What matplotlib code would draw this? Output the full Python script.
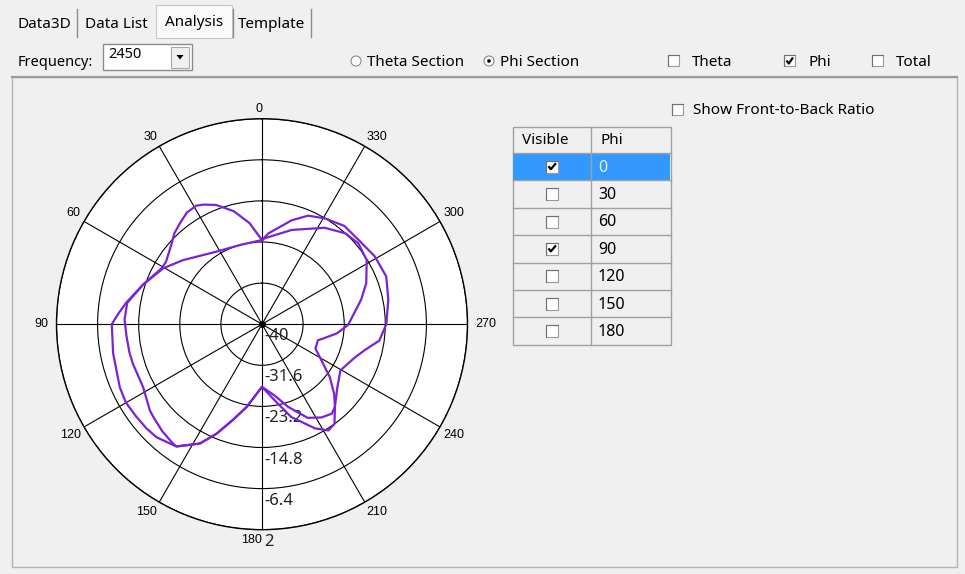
import numpy as np
import matplotlib.pyplot as plt
from matplotlib.patches import Rectangle, Circle, Polygon

plt.rcParams['font.family'] = ['Noto Sans', 'DejaVu Sans']

# window texts / state
tabs = ['Data3D', 'Data List', 'Analysis', 'Template']
active_tab = 2
frequency = '2450'
sections = ['Theta Section', 'Phi Section']
active_section = 1
components = ['Theta', 'Phi', 'Total']
components_checked = [False, True, False]
table_phi = [0, 30, 60, 90, 120, 150, 180]
table_visible = [True, False, False, True, False, False, False]
selected_row = 0

# polar scale
r_ticks = [-40, -31.6, -23.2, -14.8, -6.4, 2]
theta_ticks = list(range(0, 360, 30))

theta_phi0 = [0, 7, 14, 21, 26, 29, 34, 39, 44, 48, 57, 61, 71.5, 81, 86, 90, 101,
              107.5, 114, 120, 126, 132, 137, 145, 152.5, 157.5, 163, 169.5, 180,
              189.5, 197.5, 207, 212, 216, 221.5, 230, 239.5, 250, 256, 262, 270,
              281, 291, 301, 311, 320, 329, 337, 344, 356, 360]
gain_phi0 = [-22.8, -19.2, -16.2, -13.9, -12.8, -12.3, -12.5, -13.4, -14.2, -15.2,
             -16.6, -16.5, -14.4, -11.9, -10.5, -9.3, -9.0, -8.8, -8.2, -7.9, -8.1,
             -8.2, -8.4, -9.5, -12.5, -15.8, -19.5, -22.8, -27.2, -24.2, -20.1,
             -16.1, -14.4, -14.8, -17.5, -19.9, -21.4, -19.9, -18.3, -15.8, -14.6,
             -13.7, -12.8, -13.1, -13.8, -13.8, -14.8, -15.9, -17.9, -21.4, -22.8]

theta_phi90 = [0, 15.5, 32, 51, 60.5, 71.5, 81, 88, 95, 102, 107, 118, 127.5, 130.5,
               137, 143, 145, 152.5, 157.5, 163, 169.5, 180, 190, 197.5, 206, 212.5,
               218, 221.5, 226, 232, 239, 245.5, 254, 257, 263, 269.5, 284, 291.5,
               301.5, 310, 317.5, 327, 342.5, 358, 360]
gain_phi90 = [-22.8, -23.2, -22.5, -19.2, -16.8, -14.4, -12.1, -11.9, -12.2, -12.3,
              -12.4, -12.5, -11.1, -10.8, -10.1, -9.6, -9.5, -12.5, -15.8, -19.5,
              -22.8, -27.2, -25.2, -22.3, -18.7, -17.4, -16.8, -17.5, -19.5, -22.4,
              -25.9, -28.0, -28.1, -27.1, -24.6, -22.4, -19.1, -17.1, -14.9, -14.3,
              -14.8, -16.5, -19.8, -22.4, -22.8]

curve_color = '#7b22d4'
fs = 10.5

fig = plt.figure(figsize=(9.65, 5.74), dpi=100, facecolor='#f0f0f0')

# ---- window widgets, pixel coords (y down) ----
ui = fig.add_axes([0, 0, 1, 1])
ui.set_xlim(0, 965)
ui.set_ylim(574, 0)
ui.axis('off')


def checkbox(x, y, checked, s=11):
    ui.add_patch(Rectangle((x, y), s, s, facecolor='white', edgecolor='#9a9a9a', lw=0.8))
    ui.plot([x, x, x + s], [y + s, y, y], color='#707070', lw=0.8)
    if checked:
        ui.plot([x + 2.5, x + 4.8, x + s - 2], [y + 5.5, y + 8.5, y + 2.5],
                color='black', lw=1.6, solid_capstyle='butt')


def radio(x, y, on):
    ui.add_patch(Circle((x, y), 5, facecolor='white', edgecolor='#8a8a8a', lw=0.8))
    if on:
        ui.add_patch(Circle((x, y), 1.8, facecolor='black', edgecolor='none'))


# tabs
tab_x = [(12, 77), (77, 156), (156, 232), (232, 311)]
for i, (name, (x0, x1)) in enumerate(zip(tabs, tab_x)):
    if i == active_tab:
        ui.add_patch(Rectangle((x0, 5), x1 - x0, 33, facecolor='#fafafa',
                               edgecolor='#c8c8c8', lw=0.8))
        ui.text((x0 + x1) / 2, 22, name, ha='center', va='center', fontsize=fs + 0.5)
    else:
        ui.text((x0 + x1) / 2, 24, name, ha='center', va='center', fontsize=fs + 0.5)
for xs in (77, 233, 311):
    ui.plot([xs, xs], [9, 37], color='#8c8c8c', lw=1)

# frequency row
ui.text(18, 63, 'Frequency:', ha='left', va='center', fontsize=fs)
ui.add_patch(Rectangle((103, 44), 89, 26, facecolor='white', edgecolor='#8a8a8a', lw=1))
ui.add_patch(Rectangle((171, 47), 18, 21, facecolor='#f0f0f0', edgecolor='#a8a8a8', lw=0.8))
ui.add_patch(Polygon([(176.5, 55), (183.5, 55), (180, 59.5)], closed=True,
                     facecolor='black', edgecolor='none'))
ui.text(108, 55, frequency, ha='left', va='center', fontsize=fs)

radio_x = [356, 489]
for i, (name, rx) in enumerate(zip(sections, radio_x)):
    radio(rx, 61, i == active_section)
    ui.text(rx + 11, 62, name, ha='left', va='center', fontsize=fs + 0.5)

comp_x = [668, 784, 872]
for name, cx, chk in zip(components, comp_x, components_checked):
    checkbox(cx, 55, chk)
    ui.text(cx + 24, 62, name, ha='left', va='center', fontsize=fs + 0.5)

# content panel
ui.add_patch(Rectangle((12, 77), 945, 490, facecolor='none', edgecolor='#b4b4b4', lw=1))
ui.plot([12, 957], [77, 77], color='#9a9a9a', lw=1.6)

checkbox(672, 104, False)
ui.text(693, 111, 'Show Front-to-Back Ratio', ha='left', va='center', fontsize=fs + 0.5)

# phi table
tx0, tx1, tcol = 512.5, 670.5, 590.5
head_y, head_h, row_h = 127, 26, 27.4
n = len(table_phi)
tbottom = head_y + head_h + n * row_h
ui.add_patch(Rectangle((tx0, head_y), tx1 - tx0, tbottom - head_y, facecolor='#f0f0f0',
                       edgecolor='#a0a0a0', lw=1))
ui.text(545, head_y + head_h / 2 + 1, 'Visible', ha='center', va='center', fontsize=fs + 0.5)
ui.text(600, head_y + head_h / 2 + 1, 'Phi', ha='left', va='center', fontsize=fs + 0.5)
ui.plot([tcol, tcol], [head_y, tbottom], color='#a0a0a0', lw=1)
for i, (phi, vis) in enumerate(zip(table_phi, table_visible)):
    y0 = head_y + head_h + i * row_h
    if i == selected_row:
        ui.add_patch(Rectangle((tx0 + 0.5, y0), tx1 - tx0 - 1, row_h,
                               facecolor='#3399ff', edgecolor='none'))
    ui.plot([tx0, tx1], [y0, y0], color='#a0a0a0', lw=1)
    checkbox(546, y0 + row_h / 2 - 6, vis, s=12)
    ui.text(598, y0 + row_h / 2 + 1, str(phi), ha='left', va='center', fontsize=fs + 1,
            color='#e4f0ff' if i == selected_row else 'black')

# ---- polar pattern ----
cx, cy, R = 262, 324.2, 205.5
ax = fig.add_axes([(cx - R) / 965, (574 - cy - R) / 574, 2 * R / 965, 2 * R / 574],
                  projection='polar')
ax.set_facecolor('white')
ax.set_theta_zero_location('N')
ax.set_theta_direction(1)
ax.set_ylim(r_ticks[0], r_ticks[-1])
ax.set_yticks(r_ticks)
ax.set_yticklabels([])
ax.set_xticks(np.deg2rad(theta_ticks))
ax.set_xticklabels([])
ax.grid(True, color='black', lw=0.8, ls='-')
ax.spines['polar'].set_color('black')
ax.spines['polar'].set_linewidth(1.0)

for t in theta_ticks:
    a = np.deg2rad(t)
    ux, uy = -np.sin(a), np.cos(a)
    ha = 'right' if ux <= 0.01 else 'left'
    if uy > 0.1:
        va = 'bottom'
    elif uy < -0.1:
        va = 'top'
    else:
        va = 'center'
    d = 4 if abs(uy) > 0.1 else 8
    ax.annotate(str(t), xy=(a, r_ticks[-1]), xytext=(ux * d, uy * d),
                textcoords='offset pixels', ha=ha, va=va, fontsize=9,
                family=['Liberation Sans', 'DejaVu Sans'], annotation_clip=False)

for v in r_ticks:
    ax.annotate(f'{v:g}', xy=(np.pi, v), xytext=(2, -12), textcoords='offset pixels',
                ha='left', va='center', fontsize=12, color='#222222', zorder=1.6,
                annotation_clip=False)

ax.plot(np.deg2rad(theta_phi0), gain_phi0, color=curve_color, lw=1.6, zorder=3,
        solid_joinstyle='round')
ax.plot(np.deg2rad(theta_phi90), gain_phi90, color=curve_color, lw=1.6, zorder=3,
        solid_joinstyle='round')
ax.plot(0, r_ticks[0], 'o', color='black', ms=4, zorder=4)

fig.savefig('out.png', dpi=100, facecolor=fig.get_facecolor())
